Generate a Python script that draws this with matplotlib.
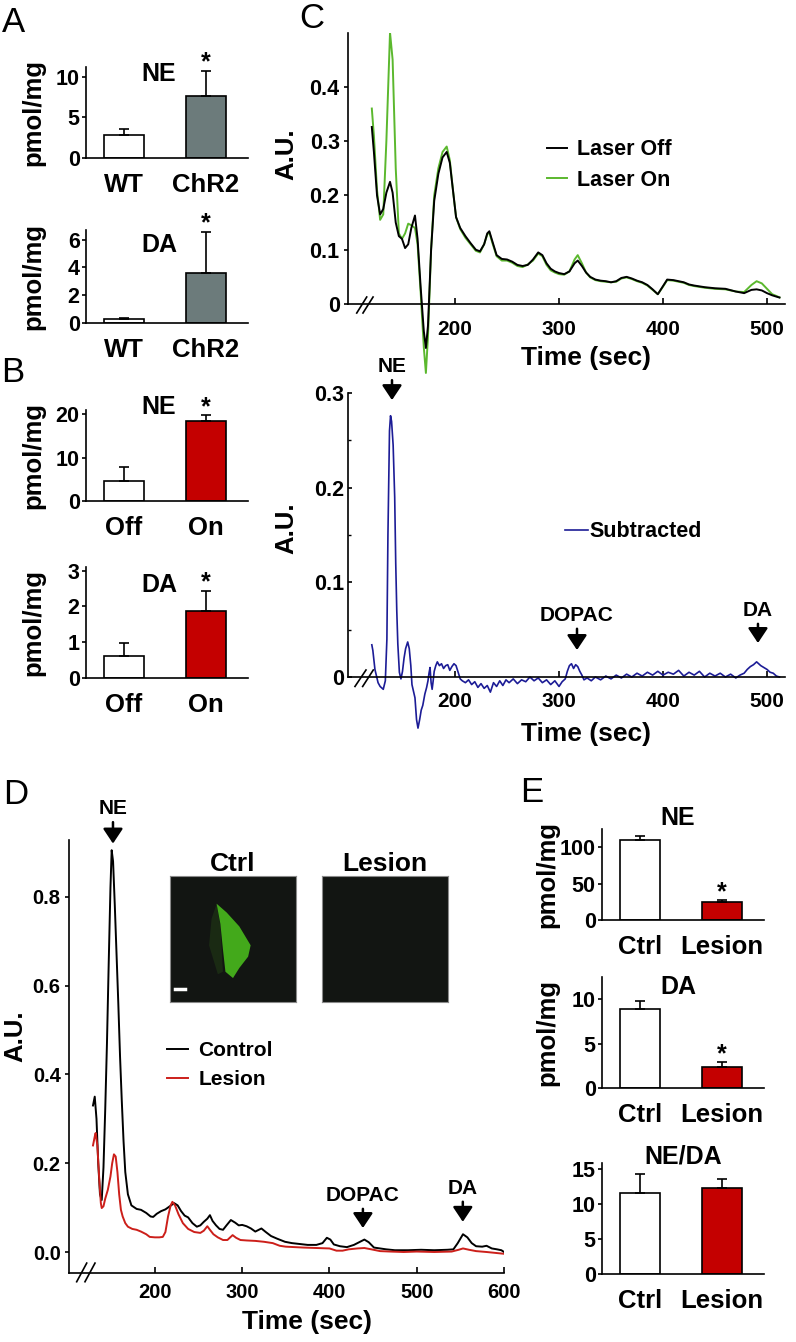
"""Catecholamine content (bars) and HPLC traces, panels A-E."""
from __future__ import annotations

import matplotlib
matplotlib.use("Agg")
import matplotlib.pyplot as plt
from matplotlib.patches import Polygon

plt.rcParams["font.family"] = ["Liberation Sans", "DejaVu Sans"]
plt.rcParams["font.weight"] = "bold"
plt.rcParams["axes.labelweight"] = "bold"
plt.rcParams["axes.titleweight"] = "bold"
plt.rcParams["axes.linewidth"] = 1.2

# ---------------------------------------------------------------------------
# Data
# ---------------------------------------------------------------------------
a_groups = ["WT", "ChR2"]
a_ne_mean = [2.85, 7.65]
a_ne_err = [0.75, 3.05]
a_da_mean = [0.3, 3.6]
a_da_err = [0.08, 2.95]

b_groups = ["Off", "On"]
b_ne_mean = [4.65, 18.4]
b_ne_err = [3.25, 1.4]
b_da_mean = [0.62, 1.88]
b_da_err = [0.35, 0.55]

e_groups = ["Ctrl", "Lesion"]
e_ne_mean = [109.6, 25.0]
e_ne_err = [6.4, 1.8]
e_da_mean = [8.9, 2.35]
e_da_err = [0.9, 0.55]
e_ratio_mean = [11.5, 12.3]
e_ratio_err = [2.7, 1.2]

# panel C, top: chromatograms with laser off / on (time in s, A.U.)
c_time = [120, 122, 125, 128, 131, 134, 137.5, 140, 143, 146,
          149, 152, 155, 158, 161.5, 164, 167, 170, 172, 174,
          177, 180, 184, 188, 192, 195, 198, 201, 205, 210,
          215, 220, 224, 228, 231, 233, 236, 240, 245, 250,
          255, 260, 265, 270, 275, 280, 284, 288, 292, 296,
          300, 305, 310, 315, 318, 322, 326, 330, 335, 340,
          345, 350, 355, 360, 365, 370, 375, 380, 385, 390,
          395, 400, 404, 410, 415, 420, 425, 430, 440, 450,
          460, 470, 478, 485, 490, 495, 500, 505, 510, 512]
c_laser_off = [0.326, 0.280, 0.200, 0.165, 0.175, 0.205, 0.225, 0.205, 0.150, 0.125,
               0.120, 0.103, 0.110, 0.140, 0.163, 0.120, 0.030, -0.050, -0.081, -0.040,
               0.100, 0.190, 0.240, 0.270, 0.280, 0.260, 0.210, 0.160, 0.140, 0.125,
               0.112, 0.100, 0.097, 0.110, 0.130, 0.134, 0.115, 0.090, 0.083, 0.082,
               0.078, 0.072, 0.070, 0.072, 0.082, 0.095, 0.090, 0.075, 0.065, 0.060,
               0.057, 0.055, 0.060, 0.075, 0.080, 0.070, 0.058, 0.050, 0.045, 0.043,
               0.042, 0.040, 0.042, 0.048, 0.050, 0.047, 0.043, 0.040, 0.035, 0.027,
               0.018, 0.033, 0.045, 0.044, 0.042, 0.040, 0.036, 0.034, 0.031, 0.029,
               0.028, 0.023, 0.020, 0.026, 0.027, 0.025, 0.020, 0.016, 0.013, 0.012]
c_laser_on = [0.360, 0.310, 0.210, 0.155, 0.165, 0.300, 0.500, 0.450, 0.250, 0.130,
              0.120, 0.130, 0.148, 0.145, 0.140, 0.110, 0.020, -0.080, -0.127, -0.060,
              0.100, 0.200, 0.250, 0.280, 0.290, 0.265, 0.210, 0.160, 0.138, 0.122,
              0.110, 0.098, 0.095, 0.110, 0.128, 0.132, 0.112, 0.088, 0.080, 0.080,
              0.076, 0.070, 0.068, 0.073, 0.080, 0.093, 0.088, 0.072, 0.062, 0.058,
              0.055, 0.054, 0.060, 0.082, 0.090, 0.075, 0.058, 0.049, 0.044, 0.042,
              0.041, 0.040, 0.041, 0.047, 0.049, 0.046, 0.042, 0.039, 0.034, 0.026,
              0.018, 0.032, 0.044, 0.043, 0.041, 0.039, 0.035, 0.033, 0.030, 0.028,
              0.027, 0.023, 0.022, 0.035, 0.042, 0.038, 0.028, 0.018, 0.014, 0.012]

# panel C, bottom: on minus off
sub_time = [120, 121, 123, 126, 128, 131, 133, 134.5, 135.5, 137,
            138, 139, 140.5, 142, 143, 144, 145, 146.5, 148, 149.5,
            151, 152.5, 154.5, 156, 157.5, 158.6, 160, 161.5, 163, 164.4,
            166, 167.5, 169, 171, 172.7, 174, 175, 176, 177, 178,
            179, 180, 181.5, 183, 185, 187, 189, 191, 193, 195,
            197, 199, 201, 203, 205, 207, 210, 213, 216, 219,
            222, 225, 228, 231, 234, 237, 240, 243, 246, 249,
            252, 256, 260, 264, 268, 272, 276, 280, 284, 288,
            292, 296, 300, 303, 306, 308, 310, 312, 314, 316,
            318, 320, 322, 324, 327, 331, 335, 340, 345, 350,
            355, 360, 365, 370, 375, 380, 385, 390, 395, 400,
            405, 410, 415, 420, 425, 430, 435, 440, 445, 450,
            455, 460, 465, 470, 474, 478, 481, 484, 487, 490,
            492, 494, 497, 500, 503, 506, 509, 512]
sub_value = [0.034, 0.028, 0.008, -0.006, -0.010, -0.013, -0.004, 0.040, 0.150, 0.260,
             0.276, 0.270, 0.245, 0.190, 0.120, 0.070, 0.035, 0.005, -0.002, 0.006,
             0.020, 0.030, 0.037, 0.030, 0.012, -0.008, -0.015, -0.022, -0.045, -0.054,
             -0.045, -0.035, -0.030, -0.018, -0.011, -0.004, 0.004, 0.010, -0.006, -0.013,
             -0.004, 0.006, 0.012, 0.016, 0.012, 0.014, 0.009, 0.012, 0.013, 0.007,
             0.011, 0.014, 0.012, 0.005, -0.002, -0.004, -0.006, -0.003, -0.008, -0.005,
             -0.011, -0.007, -0.012, -0.009, -0.016, -0.006, -0.010, -0.004, -0.009, -0.003,
             -0.006, -0.002, -0.007, -0.003, -0.005, 0.000, -0.004, -0.001, -0.006, -0.003,
             -0.008, -0.004, -0.010, -0.005, -0.002, 0.006, 0.012, 0.014, 0.009, 0.013,
             0.011, 0.006, 0.002, -0.003, -0.001, -0.004, 0.000, -0.003, 0.001, -0.002,
             0.002, -0.001, 0.003, 0.000, 0.004, 0.001, 0.005, 0.002, 0.006, 0.002,
             0.005, 0.003, 0.007, 0.001, 0.005, 0.002, 0.006, 0.000, 0.004, 0.001,
             0.004, 0.000, 0.003, -0.001, 0.002, 0.004, 0.008, 0.011, 0.013, 0.016,
             0.014, 0.012, 0.010, 0.008, 0.005, 0.004, 0.001, 0.000]
c_peaks = ["NE", "DOPAC", "DA"]
c_peak_time = [139.4, 317.3, 491.3]

# panel D: control vs lesioned chromatograms
d_ctrl_time = [129, 131, 133, 135, 137, 139, 141, 143, 145, 147,
               149, 150.4, 152, 154, 156, 158, 160, 162, 164, 166,
               169, 173, 179, 184, 190, 195, 198, 202, 207, 212,
               217, 222, 226, 230, 234, 238, 243, 248, 252, 256,
               260, 263, 266, 270, 274, 278, 282, 287, 292, 296,
               300, 305, 310, 315, 322, 327, 333, 340, 349, 357,
               366, 375, 385, 392, 397, 401, 405, 412, 420, 428,
               434, 440, 445, 451, 458, 465, 475, 490, 505, 520,
               535, 542, 547, 553, 558, 563, 568, 575, 580, 586,
               592, 597, 600]
d_ctrl = [0.33, 0.35, 0.30, 0.20, 0.13, 0.117, 0.19, 0.32, 0.47, 0.65,
          0.82, 0.905, 0.88, 0.78, 0.67, 0.56, 0.44, 0.34, 0.25, 0.18,
          0.13, 0.105, 0.097, 0.095, 0.088, 0.080, 0.079, 0.086, 0.092, 0.096,
          0.103, 0.110, 0.105, 0.092, 0.082, 0.078, 0.065, 0.057, 0.060, 0.068,
          0.075, 0.083, 0.070, 0.060, 0.052, 0.050, 0.060, 0.072, 0.066, 0.060,
          0.061, 0.058, 0.053, 0.046, 0.053, 0.045, 0.036, 0.030, 0.023, 0.020,
          0.018, 0.016, 0.016, 0.020, 0.032, 0.028, 0.017, 0.013, 0.011, 0.016,
          0.022, 0.028, 0.022, 0.010, 0.008, 0.006, 0.004, 0.004, 0.005, 0.004,
          0.005, 0.006, 0.020, 0.040, 0.033, 0.020, 0.013, 0.012, 0.014, 0.008,
          0.006, 0.004, 0.000]
d_lesion_time = [129, 131, 132, 134, 136, 138, 139, 141, 143, 146,
                 149, 151, 153, 155, 157, 159, 161, 163, 166, 169,
                 174, 179, 184, 190, 194, 200, 205, 209, 212, 215,
                 218, 220, 223, 227, 232, 238, 245, 252, 256, 260,
                 263, 267, 272, 278, 283, 289, 293, 298, 305, 315,
                 325, 335, 343, 350, 360, 370, 385, 400, 408, 415,
                 422, 432, 440, 448, 458, 470, 485, 500, 520, 540,
                 548, 553, 560, 568, 580, 590, 600]
d_lesion = [0.24, 0.26, 0.268, 0.24, 0.17, 0.11, 0.099, 0.103, 0.12, 0.14,
            0.17, 0.20, 0.22, 0.215, 0.18, 0.13, 0.095, 0.08, 0.065, 0.057,
            0.052, 0.05, 0.046, 0.04, 0.034, 0.033, 0.033, 0.034, 0.045, 0.08,
            0.105, 0.113, 0.105, 0.085, 0.065, 0.052, 0.045, 0.043, 0.048, 0.058,
            0.05, 0.04, 0.033, 0.027, 0.027, 0.038, 0.032, 0.027, 0.026, 0.025,
            0.023, 0.02, 0.014, 0.012, 0.011, 0.01, 0.009, 0.008, 0.003, 0.003,
            0.006, 0.008, 0.009, 0.006, 0.002, 0.001, 0.0, 0.001, 0.0, 0.001,
            0.005, 0.008, 0.005, 0.002, 0.0, -0.002, -0.004]
d_peaks = ["NE", "DOPAC", "DA"]
d_peak_time = [151.9, 438.3, 552.8]

# outline of the stained region in the control micrograph (0-1 image coords)
ctrl_stain_x = [0.37, 0.45, 0.55, 0.64, 0.62, 0.55, 0.50, 0.44, 0.42, 0.40]
ctrl_stain_y = [0.78, 0.71, 0.60, 0.45, 0.36, 0.27, 0.19, 0.24, 0.42, 0.62]
ctrl_halo_x = [0.33, 0.37, 0.40, 0.42, 0.38, 0.31]
ctrl_halo_y = [0.66, 0.78, 0.60, 0.24, 0.22, 0.45]

# ---------------------------------------------------------------------------
# Layout helpers (pixel boxes measured from the top-left corner)
# ---------------------------------------------------------------------------
FIG_W, FIG_H = 796, 1342
WHITE, GRAY, RED = "white", "#6c7b7b", "#c40000"
GREEN, BLUE, TRACE_RED = "#5bb82e", "#1c1c96", "#cc1f1a"


def box(left, top, right, bottom):
    return [left / FIG_W, 1 - bottom / FIG_H,
            (right - left) / FIG_W, (bottom - top) / FIG_H]


def fig_xy(x, y):
    return x / FIG_W, 1 - y / FIG_H


def bar_panel(fig, px_box, groups, means, errs, colors, ymax, yticks,
              title, title_px, star=None, ylabel="pmol/mg", ylabel_px=33):
    left, top, right, bottom = px_box
    ax = fig.add_axes(box(*px_box))
    xs = list(range(len(groups)))
    ax.bar(xs, means, width=0.48, color=colors, edgecolor="black",
           linewidth=1.2, zorder=2)
    ax.errorbar(xs, means, yerr=[[0] * len(errs), errs], fmt="none",
                ecolor="black", elinewidth=1.2, capsize=3.5, capthick=1.2,
                zorder=3)
    ax.set_xlim(-0.46, 1.51)
    ax.set_ylim(0, ymax)
    ax.set_yticks(yticks)
    ax.set_xticks(xs, groups)
    for side in ("top", "right"):
        ax.spines[side].set_visible(False)
    ax.tick_params(axis="x", length=0, labelsize=18.5, pad=11)
    ax.tick_params(axis="y", length=3, width=1.2, labelsize=15.5, pad=1.5)

    ax.text((title_px[0] - left) / (right - left),
            (bottom - title_px[1]) / (bottom - top), title,
            transform=ax.transAxes, ha="center", va="center", fontsize=18)
    if star is not None:
        ax.annotate("*", xy=(star, means[star] + errs[star]), xytext=(0, 6),
                    textcoords="offset points", ha="center", va="center",
                    fontsize=18, annotation_clip=False)
    if ylabel:
        ax.set_ylabel(ylabel, fontsize=18.5, va="center")
        ax.yaxis.set_label_coords((ylabel_px - left) / (right - left), 0.5)
    return ax


def peak_arrow(ax, label, x, text_y, tip_y):
    ax.annotate(label, xy=(x, tip_y), xytext=(x, text_y), ha="center",
                va="center", fontsize=15, annotation_clip=False,
                arrowprops=dict(arrowstyle="-|>,head_length=0.45,head_width=0.3",
                                mutation_scale=20, lw=1.8, color="black",
                                shrinkA=1, shrinkB=0))


def axis_break(ax, xs1, xs2, ys):
    for xs in (xs1, xs2):
        ax.plot(xs, ys, color="black", lw=1.2, clip_on=False)


def trace_axes_style(ax, xticks, yticks, ylabels, x_pad, y_dir, size_x, size_y):
    for side in ("top", "right"):
        ax.spines[side].set_visible(False)
    ax.set_xticks(xticks)
    ax.set_yticks(yticks, ylabels)
    ax.tick_params(axis="x", direction="in", length=4, width=1.2,
                   labelsize=size_x, pad=x_pad)
    ax.tick_params(axis="y", direction=y_dir, length=3, width=1.2,
                   labelsize=size_y, pad=3)


# ---------------------------------------------------------------------------
# Figure
# ---------------------------------------------------------------------------
fig = plt.figure(figsize=(FIG_W / 100, FIG_H / 100), dpi=100)

# --- A / B / E bar charts ---
bar_panel(fig, (86, 67, 248, 158), a_groups, a_ne_mean, a_ne_err,
          [WHITE, GRAY], 11.2, [0, 5, 10], "NE", (159, 74), star=1)
bar_panel(fig, (86, 230, 248, 323), a_groups, a_da_mean, a_da_err,
          [WHITE, GRAY], 6.7, [0, 2, 4, 6], "DA", (159, 245), star=1)
bar_panel(fig, (86, 410, 248, 501), b_groups, b_ne_mean, b_ne_err,
          [WHITE, RED], 21, [0, 10, 20], "NE", (159, 407), star=1)
bar_panel(fig, (86, 567, 248, 678), b_groups, b_da_mean, b_da_err,
          [WHITE, RED], 3.1, [0, 1, 2, 3], "DA", (159, 585), star=1)
bar_panel(fig, (602, 829, 764, 920), e_groups, e_ne_mean, e_ne_err,
          [WHITE, RED], 125, [0, 50, 100], "NE", (678, 818), star=1,
          ylabel_px=547)
bar_panel(fig, (602, 977, 764, 1088), e_groups, e_da_mean, e_da_err,
          [WHITE, RED], 12.5, [0, 5, 10], "DA", (678, 987), star=1,
          ylabel_px=547)
bar_panel(fig, (602, 1163, 764, 1274), e_groups, e_ratio_mean, e_ratio_err,
          [WHITE, RED], 15.8, [0, 5, 10, 15], "NE/DA", (683, 1156.5),
          ylabel=None)

# --- C top: laser off / on ---
ax_c1 = fig.add_axes(box(348, 32.5, 785, 374.6))
on_line, = ax_c1.plot(c_time, c_laser_on, color=GREEN, lw=1.4, label="Laser On")
off_line, = ax_c1.plot(c_time, c_laser_off, color="black", lw=1.4, label="Laser Off")
ax_c1.set_xlim(97.1, 517.3)
ax_c1.set_ylim(-0.13, 0.5)
ax_c1.spines["bottom"].set_position(("data", 0))
ax_c1.spines["left"].set_bounds(0, 0.5)
trace_axes_style(ax_c1, [200, 300, 400, 500], [0, 0.1, 0.2, 0.3, 0.4],
                 ["0", "0.1", "0.2", "0.3", "0.4"], 11.5, "out", 15, 15.5)
axis_break(ax_c1, [105.5, 115.1], [111.5, 121.2], [-0.0166, 0.0129])
ax_c1.legend(handles=[off_line, on_line], loc="center left",
             bbox_to_anchor=fig_xy(547, 165), bbox_transform=fig.transFigure,
             frameon=False, fontsize=15.5, handlelength=0.95,
             handletextpad=0.45, labelspacing=0.45, borderpad=0,
             borderaxespad=0)
ax_c1.set_ylabel("A.U.", fontsize=18.5, va="center")
ax_c1.yaxis.set_label_coords(-0.14, 0.645)
ax_c1.set_xlabel("Time (sec)", fontsize=19, va="center")
ax_c1.xaxis.set_label_coords(0.545, 0.0485)

# --- C bottom: subtracted ---
ax_c2 = fig.add_axes(box(348, 393, 785, 733.8))
sub_line, = ax_c2.plot(sub_time, sub_value, color=BLUE, lw=1.2, label="Subtracted")
ax_c2.set_xlim(97.1, 517.3)
ax_c2.set_ylim(-0.06, 0.3)
ax_c2.spines["bottom"].set_position(("data", 0))
ax_c2.spines["left"].set_bounds(0, 0.3)
trace_axes_style(ax_c2, [200, 300, 400, 500], [0, 0.1, 0.2, 0.3],
                 ["0", "0.1", "0.2", "0.3"], 10.5, "in", 15, 15.5)
ax_c2.set_yticks([0.05, 0.15, 0.25], minor=True)
ax_c2.tick_params(axis="y", which="minor", direction="in", length=2.5, width=1.0)
axis_break(ax_c2, [103.8, 114.4], [111.2, 121.4], [-0.010, 0.0074])
ax_c2.legend(handles=[sub_line], loc="center left",
             bbox_to_anchor=fig_xy(565, 532), bbox_transform=fig.transFigure,
             frameon=False, fontsize=15.5, handlelength=1.05,
             handletextpad=0.1, borderpad=0, borderaxespad=0)
for name, t, text_y, tip_y in zip(c_peaks, c_peak_time,
                                  [0.328, 0.0654, 0.0706],
                                  [0.2925, 0.0285, 0.0359]):
    peak_arrow(ax_c2, name, t, text_y, tip_y)
ax_c2.set_ylabel("A.U.", fontsize=18.5, va="center")
ax_c2.yaxis.set_label_coords(-0.14, 0.602)
ax_c2.set_xlabel("Time (sec)", fontsize=19, va="center")
ax_c2.xaxis.set_label_coords(0.545, 0.0)

# --- D: control vs lesion ---
ax_d = fig.add_axes(box(69, 840, 504, 1273))
ctrl_line, = ax_d.plot(d_ctrl_time, d_ctrl, color="black", lw=1.4, label="Control")
les_line, = ax_d.plot(d_lesion_time, d_lesion, color=TRACE_RED, lw=1.4, label="Lesion")
ax_d.set_xlim(101.5, 600)
ax_d.set_ylim(-0.0473, 0.928)
trace_axes_style(ax_d, [200, 300, 400, 500, 600], [0, 0.2, 0.4, 0.6, 0.8],
                 ["0.0", "0.2", "0.4", "0.6", "0.8"], 7, "out", 14.5, 14.5)
axis_break(ax_d, [110.3, 121.8], [119.8, 131.3], [-0.067, -0.025])
ax_d.legend(handles=[ctrl_line, les_line], loc="center left",
            bbox_to_anchor=fig_xy(167, 1065), bbox_transform=fig.transFigure,
            frameon=False, fontsize=15, handlelength=1.0, handletextpad=0.5,
            labelspacing=0.5, borderpad=0, borderaxespad=0)
for name, t, text_y, tip_y in zip(d_peaks, d_peak_time,
                                  [0.999, 0.128, 0.144],
                                  [0.92, 0.054, 0.068]):
    peak_arrow(ax_d, name, t, text_y, tip_y)
ax_d.set_ylabel("A.U.", fontsize=18.5, va="center")
ax_d.yaxis.set_label_coords(-0.123, 0.547)
ax_d.set_xlabel("Time (sec)", fontsize=19, va="center")
ax_d.xaxis.set_label_coords(0.547, -0.113)

# --- D insets: micrographs ---
for px_box, title in (((170, 876, 296, 1002), "Ctrl"), ((322, 876, 448, 1002), "Lesion")):
    ins = fig.add_axes(box(*px_box))
    ins.set_facecolor("#121512")
    ins.set_xlim(0, 1)
    ins.set_ylim(0, 1)
    ins.set_xticks([])
    ins.set_yticks([])
    for spine in ins.spines.values():
        spine.set_color("#8a8a8a")
        spine.set_linewidth(0.8)
    ins.set_title(title, fontsize=19, fontweight="bold", pad=2)
    if title == "Ctrl":
        ins.add_patch(Polygon(list(zip(ctrl_halo_x, ctrl_halo_y)),
                              closed=True, color="#3f8a1c", alpha=0.18, lw=0))
        ins.add_patch(Polygon(list(zip(ctrl_stain_x, ctrl_stain_y)),
                              closed=True, color="#4cc41d", alpha=0.85, lw=0))
        ins.plot([0.04, 0.12], [0.10, 0.10], color="white", lw=2.5)

# --- panel letters ---
for letter, (x, y) in zip("ABCDE", [(13, 22), (13, 373), (312, 18),
                                     (15.5, 794), (532, 793)]):
    fig.text(*fig_xy(x, y), letter, fontsize=25, fontweight="normal",
             ha="center", va="center")

fig.savefig("out.png", dpi=100)
